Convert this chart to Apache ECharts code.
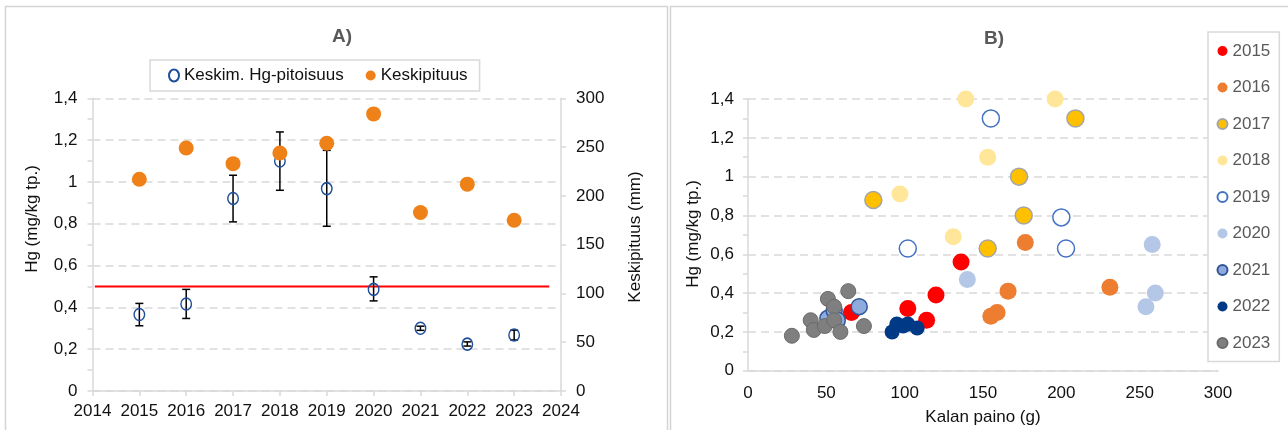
<!DOCTYPE html>
<html>
<head>
<meta charset="utf-8">
<title>Hg-pitoisuudet</title>
<script src="https://cdn.jsdelivr.net/npm/echarts@6/dist/echarts.min.js"></script>
<style>
  html, body { margin: 0; padding: 0; background: #fff; }
  #chart { width: 1288px; height: 430px; }
</style>
</head>
<body>
<div id="chart"></div>
<script>
// ---- Panel A: yearly mean Hg (with range) and mean length ----
const years = [2015, 2016, 2017, 2018, 2019, 2020, 2021, 2022, 2023];
const hgMean = [0.366, 0.416, 0.921, 1.10, 0.968, 0.486, 0.30, 0.224, 0.268];
const hgLow  = [0.312, 0.347, 0.809, 0.960, 0.788, 0.431, 0.29, 0.215, 0.244];
const hgHigh = [0.419, 0.486, 1.032, 1.239, 1.151, 0.546, 0.31, 0.235, 0.291];
const meanLength = [217, 249, 233, 244, 254, 284, 183, 212, 175];
const hgLimit = 0.5;                 // limit value, mg/kg
const limitSpan = [2014.05, 2023.75]; // years covered by the limit line
const hgTickLabels = ['0', '0,2', '0,4', '0,6', '0,8', '1', '1,2', '1,4'];

// ---- Panel B: individual fish, weight (g) vs Hg (mg/kg) ----
const fishYears = ['2015', '2016', '2017', '2018', '2019', '2020', '2021', '2022', '2023'];
const fish2015 = [[66, 0.30], [102, 0.32], [114, 0.26], [120, 0.39], [136, 0.56]];
const fish2016 = [[155, 0.28], [159, 0.30], [166, 0.41], [177, 0.66], [231, 0.43]];
const fish2017 = [[80, 0.88], [153, 0.63], [173, 1.00], [176, 0.80], [209, 1.30]];
const fish2018 = [[97, 0.91], [131, 0.69], [139, 1.40], [153, 1.10], [196, 1.40]];
const fish2019 = [[102, 0.63], [155, 1.30], [200, 0.79], [203, 0.63]];
const fish2020 = [[140, 0.47], [254, 0.33], [258, 0.65], [260, 0.40]];
const fish2021 = [[51, 0.27], [55, 0.31], [57, 0.26], [71, 0.33]];
const fish2022 = [[92, 0.20], [95, 0.24], [99, 0.23], [102, 0.24], [108, 0.22]];
const fish2023 = [[28, 0.18], [40, 0.26], [42, 0.21], [49, 0.23], [51, 0.37], [55, 0.33],
                  [55, 0.26], [59, 0.20], [64, 0.41], [74, 0.23]];
const fishData = [fish2015, fish2016, fish2017, fish2018, fish2019, fish2020, fish2021, fish2022, fish2023];

const FONT = '"Liberation Sans", Arial, sans-serif';
const GRID_GRAY = '#d9d9d9';
const TEXT = '#111';

const yearStyles = [
  { size: 17, color: '#ff0000' },
  { size: 17, color: '#ed7d31' },
  { size: 17, color: '#ffc000', borderColor: '#a5a5a5', borderWidth: 1.5 },
  { size: 17, color: '#ffe699' },
  { size: 17, color: '#ffffff', borderColor: '#4472c4', borderWidth: 1.5 },
  { size: 17, color: '#b4c7e7' },
  { size: 16, color: '#8faadc', borderColor: '#2f5597', borderWidth: 1.5 },
  { size: 15, color: '#003a86' },
  { size: 15, color: '#7f7f7f', borderColor: '#6b6b6b', borderWidth: 1 }
];

const ellipse = 'path://M0,6A5,6,0,1,1,10,6A5,6,0,1,1,0,6Z';

const chart = echarts.init(document.getElementById('chart'), null, { renderer: 'canvas' });

const dashedSplit = { show: true, lineStyle: { color: GRID_GRAY, width: 1.5, type: [8, 5] } };
const grayLine = { show: true, lineStyle: { color: GRID_GRAY, width: 1.5 } };
const grayTick = { show: true, length: 5, inside: false, lineStyle: { color: GRID_GRAY, width: 1.5 } };

const scatterSeries = fishYears.map((name, i) => ({
  name,
  type: 'scatter',
  xAxisIndex: 1,
  yAxisIndex: 2,
  symbol: 'circle',
  symbolSize: yearStyles[i].size,
  itemStyle: {
    opacity: 1,
    color: yearStyles[i].color,
    borderColor: yearStyles[i].borderColor || yearStyles[i].color,
    borderWidth: yearStyles[i].borderWidth || 0
  },
  data: fishData[i],
  z: 3 + i
}));

const option = {
  animation: false,
  backgroundColor: '#fff',
  textStyle: { fontFamily: FONT },
  title: [
    { text: 'A)', left: 337, top: 22, textAlign: 'center',
      textStyle: { fontFamily: FONT, fontSize: 19, fontWeight: 'bold', color: '#595959' } },
    { text: 'B)', left: 989, top: 24, textAlign: 'center',
      textStyle: { fontFamily: FONT, fontSize: 19, fontWeight: 'bold', color: '#595959' } }
  ],
  legend: [
    {
      data: ['Keskim. Hg-pitoisuus', 'Keskipituus'],
      left: 150, top: 60,
      padding: [7, 12, 7, 18],
      itemGap: 22, itemWidth: 10, itemHeight: 12,
      borderColor: GRID_GRAY, borderWidth: 1.5, backgroundColor: '#fff',
      textStyle: { fontFamily: FONT, fontSize: 17, color: TEXT, lineHeight: 17 },
      selectedMode: false
    },
    {
      data: fishYears.map(n => ({ name: n, icon: 'circle' })),
      orient: 'vertical',
      left: 1208, top: 32,
      padding: [10.5, 9, 10, 8.5],
      itemGap: 19.5, itemWidth: 10, itemHeight: 10,
      borderColor: GRID_GRAY, borderWidth: 1.5, backgroundColor: '#fff',
      textStyle: { fontFamily: FONT, fontSize: 17, color: '#595959', lineHeight: 17 },
      selectedMode: false,
      z: 20
    }
  ],
  grid: [
    { left: 92.5, top: 98.3, width: 468.5, height: 292.7 },
    { left: 748, top: 99, width: 470, height: 271.7 }
  ],
  xAxis: [
    {
      gridIndex: 0, type: 'value', min: 2014, max: 2024, interval: 1,
      axisLine: grayLine, axisTick: grayTick, splitLine: { show: false },
      axisLabel: { fontFamily: FONT, fontSize: 17, color: TEXT, margin: 12, formatter: v => String(v) }
    },
    {
      gridIndex: 1, type: 'value', min: 0, max: 300, interval: 50,
      axisLine: grayLine, axisTick: { show: false }, splitLine: { show: false },
      axisLabel: { fontFamily: FONT, fontSize: 17, color: TEXT, margin: 14 }
    }
  ],
  yAxis: [
    {
      gridIndex: 0, type: 'value', min: 0, max: 1.4, interval: 0.2, position: 'left',
      axisLine: grayLine, axisTick: grayTick,
      minorTick: { show: true, splitNumber: 2, length: 5, lineStyle: { color: GRID_GRAY, width: 1.5 } },
      splitLine: dashedSplit,
      axisLabel: { fontFamily: FONT, fontSize: 17, color: TEXT, margin: 15,
        formatter: v => hgTickLabels[Math.round(v / 0.2)] }
    },
    {
      gridIndex: 0, type: 'value', min: 0, max: 300, interval: 50, position: 'right',
      axisLine: grayLine, axisTick: grayTick, splitLine: { show: false },
      axisLabel: { fontFamily: FONT, fontSize: 17, color: TEXT, margin: 15 }
    },
    {
      gridIndex: 1, type: 'value', min: 0, max: 1.4, interval: 0.2,
      axisLine: grayLine, axisTick: grayTick,
      minorTick: { show: true, splitNumber: 2, length: 5, lineStyle: { color: GRID_GRAY, width: 1.5 } },
      splitLine: dashedSplit,
      axisLabel: { fontFamily: FONT, fontSize: 17, color: TEXT, margin: 14,
        formatter: v => hgTickLabels[Math.round(v / 0.2)] }
    }
  ],
  series: [
    {
      // limit value line
      type: 'line', xAxisIndex: 0, yAxisIndex: 0,
      data: [[limitSpan[0], hgLimit], [limitSpan[1], hgLimit]],
      symbol: 'none', lineStyle: { color: '#ff0000', width: 2 }, z: 2, silent: true
    },
    {
      // min-max range of Hg per year
      type: 'custom', xAxisIndex: 0, yAxisIndex: 0, z: 3, silent: true,
      data: years.map((y, i) => [y, hgLow[i], hgHigh[i]]),
      encode: { x: 0, y: [1, 2] },
      renderItem: (params, api) => {
        const lo = api.coord([api.value(0), api.value(1)]);
        const hi = api.coord([api.value(0), api.value(2)]);
        const cap = 4;
        const style = { stroke: '#000', lineWidth: 1.5 };
        return {
          type: 'group',
          children: [
            { type: 'line', shape: { x1: lo[0], y1: lo[1], x2: hi[0], y2: hi[1] }, style },
            { type: 'line', shape: { x1: lo[0] - cap, y1: lo[1], x2: lo[0] + cap, y2: lo[1] }, style },
            { type: 'line', shape: { x1: hi[0] - cap, y1: hi[1], x2: hi[0] + cap, y2: hi[1] }, style }
          ]
        };
      }
    },
    {
      name: 'Keskim. Hg-pitoisuus',
      type: 'scatter', xAxisIndex: 0, yAxisIndex: 0, z: 4,
      symbol: ellipse, symbolSize: [10.5, 12], symbolKeepAspect: false,
      itemStyle: { opacity: 1, color: 'rgba(0,0,0,0)', borderColor: '#1f4e9a', borderWidth: 1.5 },
      data: years.map((y, i) => [y, hgMean[i]])
    },
    {
      name: 'Keskipituus',
      type: 'scatter', xAxisIndex: 0, yAxisIndex: 1, z: 5,
      symbol: 'circle', symbolSize: 15,
      itemStyle: { opacity: 1, color: '#ef8119' },
      data: years.map((y, i) => [y, meanLength[i]])
    },
    ...scatterSeries
  ],
  graphic: [
    // panel frames
    { type: 'rect', silent: true, z: -10,
      shape: { x: 5.5, y: 6.5, width: 662, height: 440 },
      style: { fill: null, stroke: '#d4d4d4', lineWidth: 1.5 } },
    { type: 'rect', silent: true, z: -10,
      shape: { x: 670.5, y: 6.5, width: 640, height: 440 },
      style: { fill: null, stroke: '#d4d4d4', lineWidth: 1.5 } },
    // axis titles
    { type: 'text', x: 32, y: 219, rotation: Math.PI / 2,
      style: { text: 'Hg (mg/kg tp.)', font: '17px ' + FONT, fill: TEXT,
        textAlign: 'center', textVerticalAlign: 'middle' } },
    { type: 'text', x: 635, y: 237, rotation: Math.PI / 2,
      style: { text: 'Keskipituus (mm)', font: '17px ' + FONT, fill: TEXT,
        textAlign: 'center', textVerticalAlign: 'middle' } },
    { type: 'text', x: 693, y: 234, rotation: Math.PI / 2,
      style: { text: 'Hg (mg/kg tp.)', font: '17px ' + FONT, fill: TEXT,
        textAlign: 'center', textVerticalAlign: 'middle' } },
    { type: 'text', x: 983, y: 417,
      style: { text: 'Kalan paino (g)', font: '17px ' + FONT, fill: TEXT,
        textAlign: 'center', textVerticalAlign: 'middle' } }
  ]
};

chart.setOption(option);
</script>
</body>
</html>
